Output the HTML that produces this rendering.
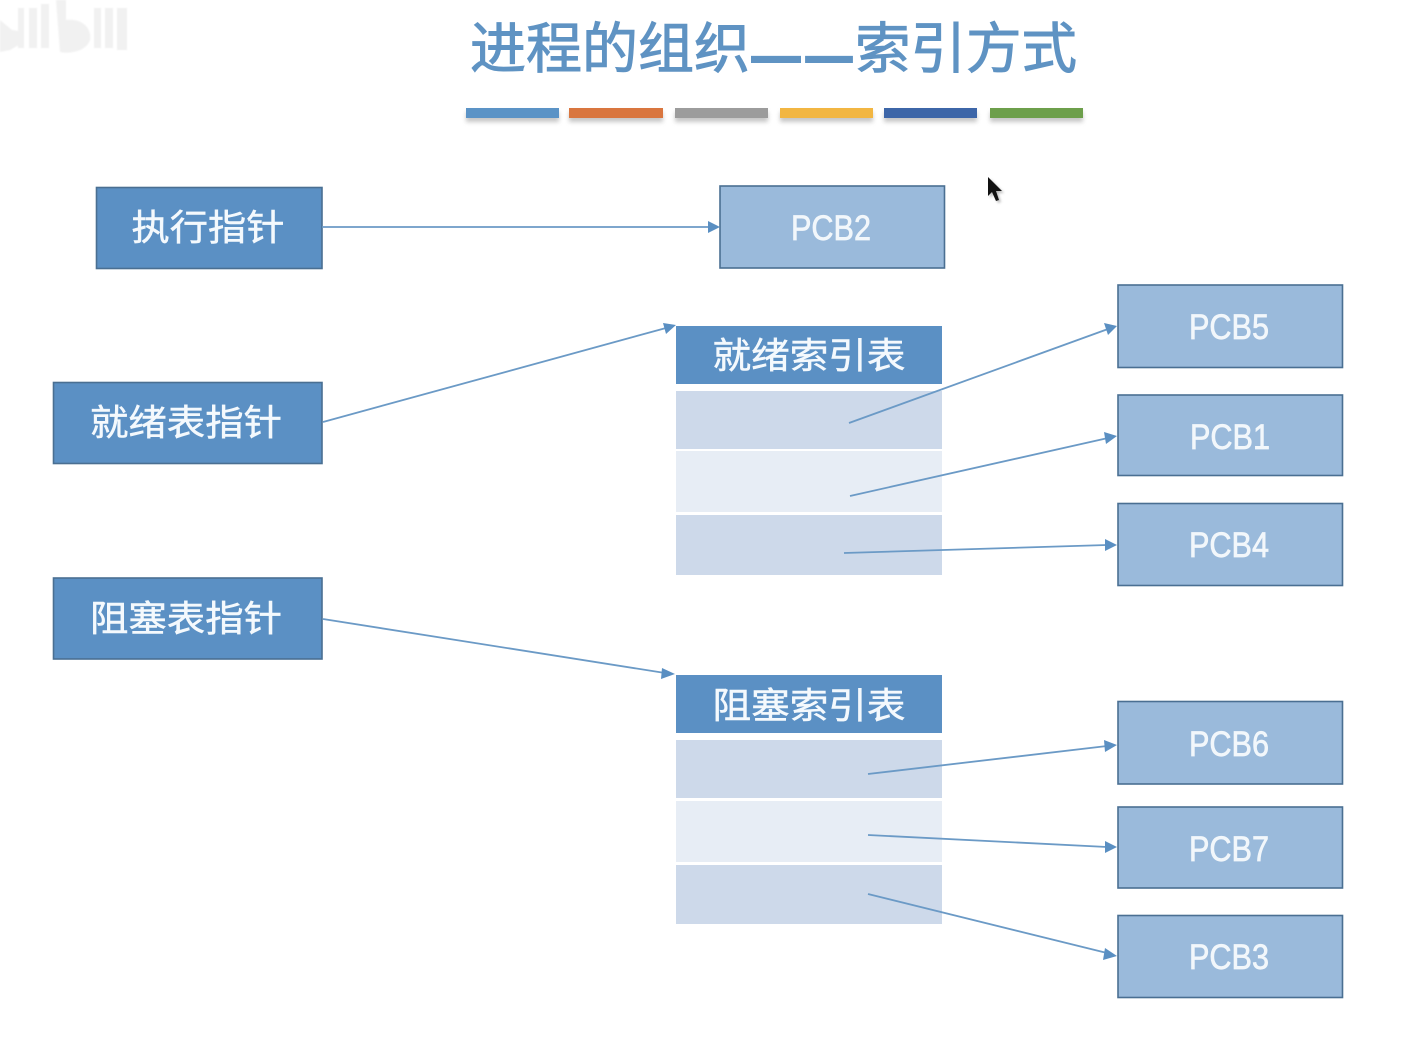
<!DOCTYPE html>
<html lang="zh">
<head>
<meta charset="utf-8">
<title>进程的组织——索引方式</title>
<style>
html,body{margin:0;padding:0;background:#fff;width:1401px;height:1045px;overflow:hidden}
svg{display:block}
text{font-family:"Liberation Sans","Noto Sans CJK SC",sans-serif;fill:#f4f9fd;text-anchor:middle}
.cn{font-size:36px;stroke:#f4f9fd;stroke-width:.5}
.pcb{font-size:35px;fill:#f2f7fb;stroke:#f2f7fb;stroke-width:.7}
.tt{font-size:55px;fill:#5f93c3;stroke:#5f93c3;stroke-width:1}
.dash{font-size:46px;fill:#5f93c3;stroke:#5f93c3;stroke-width:4}
.b{stroke:#4a6f92;stroke-width:1.6}
.d{fill:#5b90c4}
.l{fill:#9abadb}
.r1{fill:#cdd9ea}
.r2{fill:#e7edf5}
.ln{stroke:#6b9ac6;stroke-width:1.8;fill:none}
.ah{fill:#5a8fc2}
</style>
</head>
<body>
<svg width="1401" height="1045" viewBox="0 0 1401 1045" xmlns="http://www.w3.org/2000/svg">
<defs>
<filter id="sh" x="-5%" y="-50%" width="110%" height="250%"><feGaussianBlur stdDeviation="2"/></filter>
<filter id="soft" x="-5%" y="-5%" width="110%" height="110%"><feGaussianBlur stdDeviation="0.9"/></filter>
<filter id="cs" x="-40%" y="-40%" width="180%" height="180%"><feGaussianBlur stdDeviation="1.2"/></filter>
</defs>

<!-- watermark -->
<g fill="#f1f1f1" filter="url(#soft)">
<path d="M0 20 L12 30 L24 32 L24 42 L10 50 L0 52Z"/>
<rect x="18" y="8" width="6" height="40"/><rect x="29" y="8" width="8" height="40"/><rect x="41" y="4" width="8" height="44"/>
<path d="M56 0 H66 V20 C84 18 92 30 90 40 C86 52 68 54 60 52Z"/>
<rect x="94" y="8" width="7" height="40"/><rect x="105" y="8" width="8" height="40"/><rect x="117" y="8" width="10" height="42"/>
</g>

<!-- title -->
<text class="tt" x="610" y="68" textLength="280" lengthAdjust="spacingAndGlyphs">进程的组织</text>
<text class="dash" x="776" y="71" textLength="46" lengthAdjust="spacingAndGlyphs">—</text>
<text class="dash" x="829" y="71" textLength="44" lengthAdjust="spacingAndGlyphs">—</text>
<text class="tt" x="966" y="68" textLength="222" lengthAdjust="spacingAndGlyphs">索引方式</text>
<g fill="#999" opacity=".55" filter="url(#sh)">
<rect x="466" y="112" width="93" height="10"/><rect x="569" y="112" width="94" height="10"/><rect x="675" y="112" width="93" height="10"/><rect x="780" y="112" width="93" height="10"/><rect x="884" y="112" width="93" height="10"/><rect x="990" y="112" width="93" height="10"/>
</g>
<rect x="466" y="108" width="93" height="10" fill="#5b93c6"/>
<rect x="569" y="108" width="94" height="10" fill="#d9763f"/>
<rect x="675" y="108" width="93" height="10" fill="#9c9c9c"/>
<rect x="780" y="108" width="93" height="10" fill="#f2b642"/>
<rect x="884" y="108" width="93" height="10" fill="#3d66a8"/>
<rect x="990" y="108" width="93" height="10" fill="#6d9f4b"/>

<!-- pointers -->
<rect class="d b" x="96.500" y="187.500" width="225.500" height="81"/>
<text class="cn" x="208" y="240" textLength="153" lengthAdjust="spacingAndGlyphs">执行指针</text>
<rect class="d b" x="53.500" y="382.500" width="268.500" height="81"/>
<text class="cn" x="186" y="435" textLength="192" lengthAdjust="spacingAndGlyphs">就绪表指针</text>
<rect class="d b" x="53.500" y="578" width="268.500" height="81"/>
<text class="cn" x="186" y="631" textLength="192" lengthAdjust="spacingAndGlyphs">阻塞表指针</text>

<!-- PCB boxes -->
<rect class="l b" x="720" y="186" width="224.500" height="82"/>
<text class="pcb" x="831" y="240" textLength="80" lengthAdjust="spacingAndGlyphs">PCB2</text>
<rect class="l b" x="1118" y="285" width="224.500" height="82.500"/>
<text class="pcb" x="1229" y="339" textLength="80" lengthAdjust="spacingAndGlyphs">PCB5</text>
<rect class="l b" x="1118" y="395" width="224.500" height="80.500"/>
<text class="pcb" x="1230" y="449" textLength="80" lengthAdjust="spacingAndGlyphs">PCB1</text>
<rect class="l b" x="1118" y="503.500" width="224.500" height="82"/>
<text class="pcb" x="1229" y="557" textLength="80" lengthAdjust="spacingAndGlyphs">PCB4</text>
<rect class="l b" x="1118" y="701.500" width="224.500" height="82.500"/>
<text class="pcb" x="1229" y="756" textLength="80" lengthAdjust="spacingAndGlyphs">PCB6</text>
<rect class="l b" x="1118" y="807" width="224.500" height="81"/>
<text class="pcb" x="1229" y="861" textLength="80" lengthAdjust="spacingAndGlyphs">PCB7</text>
<rect class="l b" x="1118" y="915.500" width="224.500" height="82"/>
<text class="pcb" x="1229" y="969" textLength="80" lengthAdjust="spacingAndGlyphs">PCB3</text>

<!-- ready index table -->
<rect class="d" x="676" y="326" width="266" height="58"/>
<text class="cn" x="809" y="368" textLength="193" lengthAdjust="spacingAndGlyphs">就绪索引表</text>
<rect class="r1" x="676" y="391" width="266" height="58"/>
<rect class="r2" x="676" y="451" width="266" height="61"/>
<rect class="r1" x="676" y="515" width="266" height="60"/>

<!-- blocked index table -->
<rect class="d" x="676" y="675" width="266" height="58"/>
<text class="cn" x="809" y="718" textLength="193" lengthAdjust="spacingAndGlyphs">阻塞索引表</text>
<rect class="r1" x="676" y="740" width="266" height="58"/>
<rect class="r2" x="676" y="801" width="266" height="61"/>
<rect class="r1" x="676" y="865" width="266" height="59"/>

<!-- connectors -->
<g class="ln">
<line x1="322" y1="227" x2="710" y2="227"/>
<line x1="323" y1="422" x2="666" y2="328"/>
<line x1="323" y1="619" x2="665" y2="673"/>
<line x1="849" y1="423" x2="1108" y2="329"/>
<line x1="850" y1="496" x2="1108" y2="438"/>
<line x1="844" y1="553" x2="1107" y2="545"/>
<line x1="868" y1="774" x2="1107" y2="746"/>
<line x1="868" y1="835" x2="1107" y2="847"/>
<line x1="868" y1="894" x2="1107" y2="953"/>
</g>
<g class="ah">
<polygon points="720,227 708,221 708,233"/>
<polygon points="676,325 663,323 666,334"/>
<polygon points="675,674 662,668 661,679"/>
<polygon points="1117,326 1104,323 1108,335"/>
<polygon points="1117,436 1104,432 1106,444"/>
<polygon points="1117,545 1105,539 1105,551"/>
<polygon points="1117,745 1104,740 1105,752"/>
<polygon points="1117,847 1105,841 1105,853"/>
<polygon points="1117,956 1105,948 1103,960"/>
</g>

<!-- cursor -->
<polygon points="990,179 990,198 994,194 998,203 1001,202 998,193 1004,193" fill="#777" opacity=".5" filter="url(#cs)"/>
<polygon points="988,177 988,196 992,192 996,201 999,200 996,191 1002,191" fill="#111"/>
</svg>
</body>
</html>
